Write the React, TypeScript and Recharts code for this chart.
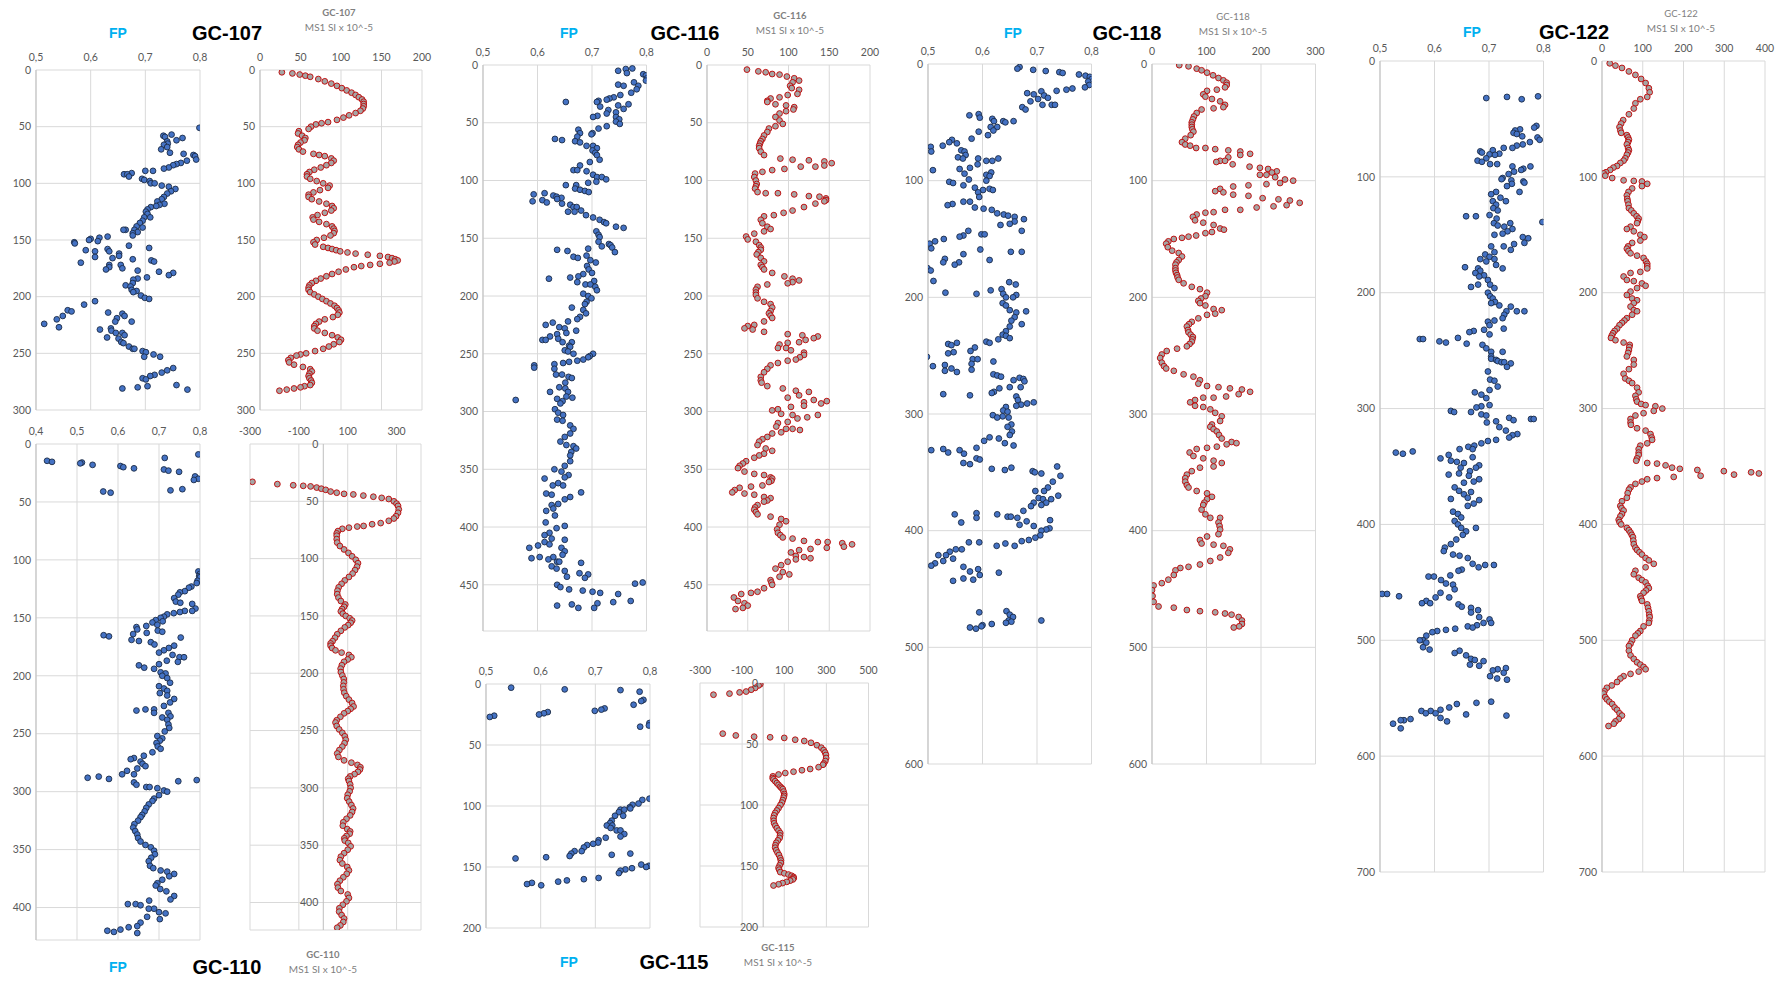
import { ScatterChart, Scatter, XAxis, YAxis, CartesianGrid, ReferenceLine } from "recharts"

// every pair is [depth, value]
type Pair = [number, number]

// axis ticks
const fpTicks = [0.5, 0.6, 0.7, 0.8]
const fpTicks110 = [0.4, 0.5, 0.6, 0.7, 0.8]
const msTicks200 = [0, 50, 100, 150, 200]
const msTicks300 = [0, 100, 200, 300]
const msTicks400 = [0, 100, 200, 300, 400]
const msTicks110 = [-300, -100, 100, 300]
const msTicks115 = [-300, -100, 100, 300, 500]
const depthTicks200 = [0, 50, 100, 150, 200]
const depthTicks300 = [0, 50, 100, 150, 200, 250, 300]
const depthTicks400 = [0, 50, 100, 150, 200, 250, 300, 350, 400]
const depthTicks450 = [0, 50, 100, 150, 200, 250, 300, 350, 400, 450]
const depthTicks600 = [0, 100, 200, 300, 400, 500, 600]
const depthTicks700 = [0, 100, 200, 300, 400, 500, 600, 700]

// ---- GC-107 ----
const fp107: Pair[] = [
  [51,.799],[57,.748],[58,.733],[59,.736],[60,.768],[62,.757],[63,.740],[65,.741],[66,.734],[68,.740],[70,.729],[73,.745],[74,.770],[75,.788],[76,.791],[79,.793],[80,.776],[82,.765],[83,.757],[84,.751],[86,.743],[87,.734],[89,.700],[89,.714],[91,.675],[92,.661],[92,.667],[94,.670],[96,.694],[97,.698],[98,.708],[100,.710],[100,.717],[102,.730],[103,.743],[105,.755],[107,.747],[109,.740],[112,.734],[114,.730],[116,.722],[118,.735],[119,.726],[120,.720],[121,.710],[123,.704],[125,.701],[127,.704],[130,.709],[130,.698],[133,.695],[135,.690],[138,.684],[139,.695],[141,.680],[141,.664],[141,.660],[143,.686],[144,.677],[146,.677],[147,.631],[148,.616],[149,.600],[150,.597],[151,.613],[152,.570],[153,.571],[155,.670],[157,.707],[158,.631],[159,.591],[160,.608],[160,.634],[162,.652],[164,.652],[165,.608],[166,.640],[167,.677],[168,.711],[169,.716],[170,.582],[172,.634],[172,.655],[174,.634],[175,.658],[176,.628],[177,.686],[178,.725],[179,.751],[181,.743],[183,.703],[184,.686],[185,.678],[188,.677],[190,.664],[191,.673],[194,.675],[195,.684],[196,.678],[199,.692],[201,.699],[202,.707],[204,.608],[207,.588],[212,.558],[213,.565],[214,.632],[215,.658],[217,.662],[217,.549],[219,.648],[220,.538],[222,.675],[222,.645],[224,.515],[227,.542],[228,.637],[229,.617],[230,.638],[232,.658],[232,.646],[234,.662],[236,.630],[237,.651],[240,.656],[241,.660],[244,.670],[246,.677],[246,.680],[248,.695],[249,.701],[251,.715],[253,.727],[253,.698],[263,.751],[265,.740],[267,.730],[269,.717],[270,.709],[272,.695],[273,.701],[278,.757],[279,.704],[280,.686],[281,.658],[282,.777],
]
const ms107: Pair[] = [
  [2,27],[3,40],[4,49],[5,56],[6,62],[8,72],[10,80],[12,88],[14,95],[16,101],[18,107],[20,113],[22,118],[24,122],[26,126],[28,128],[30,128],[32,128],[34,127],[36,124],[38,118],[40,110],[42,103],[44,95],[46,84],[47,76],[48,69],[50,63],[52,60],[54,48],[56,47],[58,52],[60,56],[62,55],[64,50],[66,47],[68,46],[70,48],[72,53],[74,66],[75,73],[76,80],[78,88],[80,91],[82,88],[84,82],[86,75],[88,67],[90,61],[92,58],[94,58],[96,62],[98,70],[100,78],[102,86],[104,84],[106,74],[108,66],[110,60],[112,60],[114,64],[116,73],[118,82],[120,89],[122,91],[124,88],[126,80],[128,71],[130,65],[132,66],[134,73],[136,82],[138,89],[140,91],[142,92],[144,91],[146,87],[148,79],[150,70],[152,66],[154,68],[156,78],[157,84],[158,89],[159,94],[160,99],[161,108],[162,118],[163,133],[164,148],[165,158],[166,163],[167,167],[168,170],[169,166],[170,160],[171,148],[172,136],[173,125],[174,116],[176,106],[178,97],[180,89],[182,82],[184,75],[186,69],[188,64],[190,61],[192,60],[194,60],[196,62],[198,67],[200,72],[202,77],[204,82],[206,87],[208,92],[210,95],[212,97],[214,98],[216,96],[218,90],[220,80],[222,73],[224,69],[226,67],[228,67],[230,71],[232,80],[234,89],[236,96],[238,100],[240,98],[242,91],[244,85],[246,78],[248,68],[250,57],[251,50],[252,45],[254,38],[256,35],[258,36],[260,42],[262,53],[264,62],[266,64],[268,61],[270,60],[272,61],[274,63],[276,64],[278,62],[279,55],[280,50],[281,42],[282,33],[283,24],
]

// ---- GC-110 ----
const fp110: Pair[] = [
  [9,.796],[12,.714],[14.5,.427],[15.4,.439],[16,.512],[16.7,.508],[18,.538],[19,.606],[20,.613],[21,.639],[22,.712],[23,.723],[24,.749],[28,.788],[30,.796],[31,.785],[39,.757],[40,.728],[41,.564],[42,.582],
  [110,.796],[112,.800],[114,.798],[115,.800],[118,.794],[120,.792],[123,.779],[124,.773],[127,.763],[128,.751],[130,.747],[133,.737],[136,.741],[137,.752],[138,.781],[142,.789],[144,.781],[144,.763],[145,.751],[146,.736],[147,.720],[149,.712],[150,.704],[152,.692],[153,.709],[154,.684],[156,.696],[157,.669],[158,.645],[160,.647],[161,.697],[162,.708],[163,.670],[164,.637],[165,.565],[166,.578],[167,.753],[169,.633],[170,.651],[171,.680],[173,.689],[174,.737],[176,.724],[178,.712],[180,.700],[182,.733],[184,.750],[184,.761],[187,.719],[188,.746],[190,.700],[191,.651],[193,.664],[194,.688],[197,.704],[198,.716],[200,.708],[202,.720],[206,.727],[209,.700],[211,.712],[213,.720],[215,.702],[217,.720],[220,.737],[223,.727],[226,.712],[229,.688],[229,.667],[230,.645],[232,.688],[232,.723],[235,.728],[236,.708],[238,.720],[242,.723],[245,.725],[248,.714],[252,.696],[254,.708],[256,.702],[258,.694],[261,.697],[263,.704],[266,.684],[269,.663],[271,.639],[272,.631],[274,.655],[276,.660],[278,.667],[280,.647],[282,.622],[285,.610],[285,.639],[287,.553],[288,.526],[289,.578],[290,.792],[291,.747],[292,.639],[294,.645],[296,.669],[296,.677],[297,.696],[299,.712],[300,.720],[303,.700],[306,.688],[308,.684],[311,.675],[314,.669],[317,.665],[320,.659],[322,.655],[325,.649],[328,.640],[331,.637],[334,.642],[337,.647],[340,.649],[343,.655],[346,.667],[348,.680],[351,.688],[354,.690],[357,.681],[360,.675],[364,.678],[366,.686],[368,.704],[369,.720],[371,.737],[373,.725],[376,.708],[379,.696],[381,.692],[384,.703],[386,.718],[390,.737],[393,.728],[394,.676],[397,.624],[397,.643],[398,.655],[401,.688],[401,.675],[404,.700],[405,.716],[408,.671],[410,.702],[413,.655],[416,.647],[417,.626],[419,.606],[420,.574],[421,.590],[422,.647],
]
const ms110: Pair[] = [
  [33,-290],[35,-188],[36,-123],[36.5,-82],[37,-52],[38,-27],[39,-8],[40,10],[41.5,30],[42.5,55],[43.5,85],[44,123],[45,164],[46,205],[47,239],[48,268],[50,289],[52,300],[54,306],[57,309],[60,306],[63,298],[65,289],[67,268],[69,235],[70,200],[71.5,165],[72,139],[73,105],[74,78],[76,60],[78,55],[80,55],[83,55],[86,57],[89,68],[92,85],[95,103],[98,118],[101,133],[104,142],[107,138],[110,130],[113,120],[116,105],[119,88],[122,75],[125,63],[128,58],[131,57],[134,62],[137,72],[140,90],[142,85],[144,77],[146,72],[148,80],[150,92],[152,108],[154,118],[156,112],[158,102],[160,88],[163,72],[166,57],[169,48],[172,38],[174,30],[176,30],[178,36],[180,50],[182,75],[184,105],[186,115],[188,100],[190,85],[193,76],[196,71],[199,72],[202,78],[205,84],[208,84],[211,82],[214,83],[217,86],[220,94],[223,105],[226,118],[229,124],[231,112],[233,100],[235,85],[238,70],[241,55],[243,50],[246,55],[249,65],[252,78],[255,88],[258,92],[261,87],[264,78],[267,66],[270,57],[273,62],[276,85],[278,115],[280,140],[282,152],[284,150],[286,142],[288,128],[290,110],[292,102],[294,105],[297,110],[300,112],[303,108],[306,100],[309,98],[312,106],[315,115],[318,122],[321,118],[324,110],[327,95],[330,82],[333,80],[336,98],[338,110],[340,108],[342,95],[344,86],[346,88],[348,102],[351,112],[354,100],[357,85],[360,72],[363,68],[366,78],[369,98],[372,105],[375,96],[378,82],[381,68],[384,58],[387,60],[390,72],[393,100],[396,105],[399,95],[402,80],[405,66],[408,65],[411,75],[414,85],[417,82],[420,70],[422,57],
]

// ---- GC-116 ----
const fp116: Pair[] = [
  [3,.774],[3.5,.762],[5,.748],[7,.764],[8,.794],[9,.799],[11.5,.801],[13.5,.799],[15,.777],[17,.748],[18,.758],[18,.785],[21,.782],[24,.772],[26,.752],[28,.740],[29,.732],[30,.727],[31,.712],[32,.709],[32,.652],[34,.767],[35,.748],[36,.715],[38,.758],[39,.730],[41,.744],[42,.727],[44,.710],[45,.702],[45,.744],[47,.750],[49,.744],[51,.751],[53,.727],[55,.712],[56,.675],[59,.701],[59,.678],[60,.699],[62,.673],[64,.632],[65,.645],[66,.669],[67,.678],[70,.690],[70,.702],[72,.709],[74,.701],[76,.706],[78,.709],[82,.714],[84,.696],[87,.678],[91,.666],[91,.673],[92,.690],[95,.702],[97,.709],[97,.718],[99,.726],[101,.708],[102,.693],[104,.652],[104,.671],[107,.669],[108,.678],[109,.687],[110,.694],[111,.613],[112,.593],[113,.629],[114,.635],[115,.644],[116,.636],[117,.609],[118,.591],[119,.617],[120,.645],[121,.660],[123,.666],[123,.672],[126,.680],[127,.656],[127,.668],[130,.689],[132,.702],[134,.714],[136,.722],[137,.726],[140,.744],[141,.758],[144,.708],[147,.712],[149,.714],[153,.712],[155,.731],[156,.734],[157,.718],[158,.737],[159,.693],[160,.636],[161,.655],[162,.742],[165,.690],[166,.666],[167,.674],[169,.697],[171,.707],[174,.691],[177,.694],[180,.700],[181,.684],[183,.675],[184,.660],[185,.621],[187,.704],[188,.673],[190,.688],[190,.697],[192,.706],[195,.709],[198,.684],[200,.693],[202,.699],[205,.690],[207,.687],[210,.663],[212,.684],[215,.689],[218,.678],[220,.673],[222,.656],[223,.628],[225,.615],[227,.640],[228,.650],[230,.671],[232,.653],[233,.636],[235,.623],[237,.638],[238,.609],[238,.615],[240,.646],[240,.663],[243,.658],[244,.660],[247,.650],[248,.656],[250,.666],[250,.702],[252,.696],[253,.693],[255,.684],[256,.673],[257,.658],[258,.647],[259,.631],[260,.594],[262,.594],[263,.631],[268,.634],[268,.645],[270,.657],[271,.663],[275,.651],[279,.640],[280,.651],[283,.656],[283,.623],[287,.653],[288,.664],[289,.636],[290,.560],[291,.646],[293,.642],[298,.632],[301,.638],[303,.647],[307,.636],[308,.646],[312,.660],[315,.666],[319,.660],[322,.650],[326,.642],[329,.653],[330,.666],[332,.671],[335,.662],[338,.660],[343,.660],[347,.650],[350,.631],[352,.644],[355,.657],[357,.650],[358,.613],[362,.638],[364,.628],[364,.647],[370,.680],[371,.616],[372,.626],[374,.660],[376,.650],[380,.638],[381,.626],[384,.629],[386,.616],[390,.632],[396,.615],[399,.650],[401,.635],[405,.622],[407,.613],[410,.626],[411,.650],[413,.613],[415,.622],[416,.601],[418,.585],[418,.644],[421,.650],[424,.646],[426,.604],[426,.629],[427,.589],[428,.620],[430,.636],[430,.640],[431,.680],[434,.626],[436,.635],[438,.650],[440,.677],[441,.693],[443,.654],[444,.687],[448,.793],[449,.779],[450,.636],[452,.642],[454,.658],[455,.683],[456,.701],[457,.715],[458,.748],[464,.771],[465,.739],[466,.710],[467,.663],[468,.636],[470,.704],[470,.675],
]
const ms116: Pair[] = [
  [4,49],[5.5,63],[6.3,72],[7.8,80],[8.3,89],[10,98],[11.5,107],[13.5,113],[15,105],[18,102],[20,104],[21.5,113],[25,111],[26,99],[28,89],[29,78],[31,74],[32,74],[34,84],[35,97],[36.5,107],[38.5,106],[40,97],[42,89],[45,84],[48,89],[51,93],[53,84],[55,76],[58,74],[61,70],[64,68],[66,66],[68,65],[70,64],[72,64],[75,66],[78,70],[81,90],[82,105],[82.5,125],[83.5,144],[85,153],[87,144],[88,133],[88,115],[90,95],[91,80],[92.5,68],[94,59],[97,58],[100,60],[103,61],[105,60],[107,59],[110,62],[111,72],[111,87],[112,107],[113.5,125],[114,138],[115.5,146],[117,146],[118,144],[120,133],[123,119],[126,105],[128,94],[130,82],[131,70],[134,66],[137,68],[140,74],[142,78],[144,70],[146,58],[148.5,48],[151,50],[153,60],[156,64],[158,66],[160,66],[162,63],[164,61],[167,66],[170,70],[173,66],[175,68],[177,70],[180,80],[183,95],[185,105],[186.5,113],[188,105],[189,99],[190,74],[192,62],[194.5,60],[197,60],[199,60],[202,62],[205,70],[207,78],[210,80],[213,78],[215,76],[217,78],[219,80],[222,70],[225,58],[226,50],[228,46],[229,56],[231,70],[233,99],[234,117],[235,136],[236.5,131],[238,121],[240,113],[240.5,99],[242,89],[245,87],[245,97],[247,103],[249,119],[251,119],[253,114],[255,109],[256,99],[258,87],[260,78],[263,74],[266,70],[270,66],[273,66],[275,67],[278,74],[280,93],[282,109],[283,125],[286,113],[288,99],[290,131],[291,147],[292,119],[293,140],[295,119],[296,103],[298,87],[299,80],[302,91],[303,105],[303,136],[305,123],[306,111],[309,99],[310,87],[313,85],[315,97],[315,105],[316,114],[318,91],[319,80],[322,74],[324,68],[326,64],[329,62],[332,72],[334,80],[336.5,70],[338,64],[340,58],[343,48],[345,44],[347,40],[349,38],[352,46],[354,58],[355,70],[357,78],[358,80],[360,79],[361,76],[364,68],[365,54],[366,40],[368,34],[370,31],[371,46],[372,58],[374,70],[375,78],[377,74],[378,70],[381,62],[383,59],[385,58],[387,60],[389,62],[391,78],[393,91],[395,97],[398,89],[402,86],[405,87],[407,90],[409,93],[410,105],[412,119],[413,136],[413,148],[414,166],[415,178],[417,168],[418,147],[419,127],[420,113],[422,103],[425,109],[426,119],[427,127],[428,109],[430,99],[433,91],[436,84],[439,93],[441,101],[443,89],[446,78],[448,79],[450,80],[453,70],[456,62],[457,54],[458,42],[461,33],[464,38],[466,46],[468,50],[470,44],[471,35],
]

// ---- GC-115 ----
const fp115: Pair[] = [
  [3,.546],[4.4,.644],[5,.746],[6.3,.781],[13,.788],[14,.784],[17,.770],[20,.717],[21,.711],[22,.699],[23,.613],[24,.606],[25,.597],[26,.515],[27,.507],[32,.799],[34,.798],[35,.782],[94,.799],[95,.786],[98,.779],[99,.768],[101,.763],[102,.764],[103,.746],[103,.753],[105,.743],[108,.736],[108,.751],[112,.730],[114,.727],[116,.721],[116,.731],[118,.728],[120,.739],[120,.746],[123,.753],[125,.746],[126,.719],[128,.706],[130,.705],[131,.696],[132,.685],[134,.679],[137,.675],[137,.662],[139,.656],[139,.764],[140,.730],[141,.653],[142,.610],[143,.554],[148,.784],[149,.798],[150,.793],[151,.767],[152,.755],[153,.746],[155,.743],[159,.706],[160,.679],[161,.648],[162,.632],[163,.584],[164,.575],[165,.601],
]
const ms115: Pair[] = [
  [1,-14],[2,-22],[4,-38],[5.5,-57],[7,-81],[7.7,-112],[8.7,-160],[9.6,-236],[41.5,-192],[43,-130],[44,-43],[44.5,33],[45,100],[46.5,152],[47.5,195],[49,227],[51,255],[53,276],[55,287],[57,294],[59,298],[61.5,299],[64,295],[66,288],[67,284],[69,263],[70.5,223],[71.5,184],[72.7,144],[73.8,105],[75,73],[76.5,46],[78,45],[79,49],[80.5,57],[82,65],[83.5,73],[85,81],[86,87],[87,93],[89,97],[91,100],[92.5,99],[94,97],[96,93],[98,89],[100,82],[102.5,73],[104.5,65],[106.5,57],[108.5,52],[110.7,49],[113,50],[115,52],[117,58],[119,65],[121,73],[123,81],[125,80],[127,78],[129,70],[131,62],[133,58],[135,57],[137,62],[139,68],[141,75],[143.5,81],[145.5,84],[147.5,84],[149.5,78],[151.5,73],[153,76],[155,81],[156,100],[157,120],[158,135],[159,144],[160,145],[161,141],[162,128],[163,112],[164,92],[165,73],[166,49],
]

// ---- GC-118 ----
const fp118: Pair[] = [
  [2.6,.668],[4,.664],[5,.693],[6,.716],[7,.741],[7.7,.747],[9,.777],[10,.789],[11,.797],[13,.800],[15,.794],[18,.796],[20,.788],[21,.765],[22,.754],[23,.736],[23.4,.708],[25,.682],[26,.694],[27,.713],[29,.720],[30,.702],[32,.688],[35,.710],[35,.727],[35,.733],[37,.673],[39,.679],[43,.593],[44,.576],[46,.595],[47,.618],[49,.621],[49,.638],[49,.657],[50,.642],[54,.615],[54,.627],[57,.620],[58,.593],[61,.610],[64,.580],[65,.544],[67,.539],[68,.553],[70,.527],[71,.505],[74,.561],[75,.506],[75,.567],[78,.569],[80,.555],[81,.564],[81,.592],[81,.629],[83,.607],[83,.618],[86,.591],[89,.577],[90,.558],[91,.509],[93,.616],[94,.567],[95,.607],[96,.613],[99,.575],[100,.607],[101,.539],[102,.546],[104,.565],[106,.586],[107,.613],[108,.601],[108,.619],[110,.592],[114,.594],[118,.577],[118,.565],[120,.545],[121,.536],[123,.586],[124,.602],[125,.617],[128,.627],[129,.639],[130,.647],[131,.659],[133,.676],[135,.659],[137,.650],[138,.633],[143,.672],[143,.574],[146,.598],[146,.604],[147,.565],[148,.558],[150,.529],[152,.513],[154,.503],[158,.506],[159,.596],[161,.652],[161,.672],[163,.565],[167,.531],[168,.613],[170,.528],[170,.557],[172,.549],[175,.499],[177,.505],[186,.510],[187,.649],[189,.661],[193,.635],[194,.615],[196,.532],[197,.589],[197,.638],[198,.662],[200,.643],[200,.656],[205,.637],[207,.643],[211,.650],[212,.680],[213,.662],[217,.659],[220,.653],[223,.672],[225,.650],[229,.643],[232,.637],
  [233,.643],[235,.650],[236,.629],[238,.607],[239,.613],[239,.553],[240,.537],[241,.543],[243,.586],[246,.578],[247,.547],[248,.537],[251,.498],[253,.582],[253,.591],[255,.620],[257,.580],[258,.531],[259,.509],[261,.543],[262,.580],[263,.531],[264,.553],[266,.620],[267,.627],[268,.634],[269,.668],[270,.675],[271,.657],[272,.677],[277,.650],[277,.670],[278,.631],[281,.621],[282,.617],[283,.528],[284,.577],[285,.662],[288,.665],[290,.694],[291,.682],[292,.671],[293,.662],[294,.643],[297,.638],[298,.646],[301,.619],[302,.637],[303,.627],[303,.648],[309,.653],[311,.646],[315,.654],[318,.650],[320,.613],[321,.630],[323,.603],[325,.641],[327,.657],[329,.589],[330,.528],[331,.506],[331,.558],[333,.537],[334,.566],[338,.589],[339,.595],[342,.565],[343,.577],[345,.737],[346,.653],[347,.617],[348,.641],[349,.692],[350,.696],[351,.708],[353,.743],[358,.729],[363,.720],[366,.713],[366,.697],[370,.739],[372,.703],[373,.711],[373,.726],[376,.694],[376,.717],[378,.708],[379,.689],[383,.675],[385,.589],[386,.549],[386,.627],[388,.646],[388,.652],[389,.589],[389,.664],[391,.724],[392,.681],[393,.561],[395,.668],[396,.694],[398,.723],[399,.717],[400,.708],[404,.706],[406,.697],[408,.685],[409,.672],[410,.594],[410,.575],[411,.642],[413,.659],[413,.626],[416,.562],[416,.551],[418,.540],[421,.533],[421,.519],[424,.546],[426,.528],[428,.513],[430,.506],[431,.565],[433,.592],[435,.577],[436,.630],[438,.595],[441,.565],[442,.583],[443,.546],[469,.644],[470,.594],[472,.650],[474,.656],[477,.648],[477,.708],[478,.653],[479,.643],[480,.617],[481,.600],[482,.598],[483,.577],[484,.588],
]
const ms118: Pair[] = [
  [1,50],[2,67],[4,82],[5.4,91],[7.4,101],[9.7,112],[12,122],[14,131],[16,137],[18,137],[20,134],[22,119],[23,101],[26,94],[28,98],[30,110],[32,125],[35,134],[37,131],[38,113],[39,91],[42,82],[45,77],[47.5,75],[50,73],[52,73],[54,73],[56,74],[58,76],[61,71],[64,61],[67,55],[69,61],[70,70],[72,81],[72,98],[73,116],[74,140],[75,162],[77,180],[78,162],[80,140],[83,125],[84,118],[83,134],[86,148],[88,179],[89,198],[90,213],[92,229],[93,220],[95,210],[95,198],[97,226],[99,244],[100,259],[102,235],[103,210],[104,177],[105,149],[107,125],[109,116],[110,131],[112,149],[113,177],[115,203],[116,232],[117,253],[119,271],[121,247],[122,223],[123,192],[125,162],[125,134],[127,113],[127.5,98],[129,82],[131,75],[134,79],[136,94],[138,113],[141,125],[142,132],[144,110],[145,98],[147,81],[148,67],[149,55],[150,40],[152,30],[154,26],[157,29],[160,37],[162,49],[165,55],[168,49],[170,45],[172,43],[175,43],[177,43],[179,44],[181,46],[183,47],[185,49],[188,58],[191,73],[193,88],[196,101],[199,98],[201,90],[203,85],[205,88],[207,98],[210,113],[211,128],[214,116],[215,101],[218,85],[221,73],[223,68],[225,64],[228,66],[230,67],[232,71],[234,75],[236,74],[238,73],[240,69],[242,64],[244,46],[246,27],[249,18],[252,15],[256,18],[259,22],[261,26],[263,40],[266,58],[268,76],[271,88],[274,85],[276,101],[277,122],[278,143],[279,165],[281,180],[283,159],[285,136],[286,113],[286,94],[288,79],[290,70],[293,79],[294,94],[296,107],[299,116],[302,128],[306,125],[309,110],[311,107],[313,113],[315,119],[318,123],[321,128],[324,146],[325,155],[326,137],[328,119],[329,101],[330,82],[333,69],[336,76],[338,94],[340,113],[342,128],[345,113],[346,88],[349,73],[352,64],[355,61],[358,61],[361,64],[363,67],[366,82],[368,101],[371,110],[373,101],[376,96],[378,94],[382,91],[386,98],[389,107],[389,125],[393,122],[396,124],[399,125],[403,122],[405,101],[408,88],[411,91],[412,113],[413,131],[416,143],[419,140],[423,125],[426,107],[429,88],[431,67],[432,52],[434,43],[438,40],[442,30],[445,18],[447,3],[451,0],[456,1],[461,3],[465,12],[466,40],[468,64],[469,88],[470,116],[471,134],[472,146],[474,159],[477,165],[480,165],[482,160],[483,150],
]

// ---- GC-122 ----
const fp122: Pair[] = [
  [30.5,.790],[31,.733],[32,.695],[33,.760],[56,.787],[57.5,.783],[59,.757],[60,.748],[62,.745],[63,.751],[65,.761],[66,.789],[68,.793],[70,.775],[72,.762],[73,.751],[75,.743],[75,.727],[77,.707],[78,.684],[79,.687],[80.6,.701],[80,.719],[81,.711],[84,.695],[86,.679],[87,.687],[89,.715],[89,.702],[91,.743],[91,.776],[93,.763],[94,.759],[95.5,.746],[97.6,.736],[101,.725],[102,.723],[103,.741],[104,.763],[105,.765],[106,.742],[108,.733],[113,.756],[113,.713],[115,.704],[118,.721],[121,.731],[121,.707],[124,.713],[127,.708],[129,.716],[133,.701],[134,.658],[134,.676],[136,.714],[139,.798],[140,.709],[140,.739],[142,.716],[143,.728],[145,.743],[147,.734],[149,.725],[150,.710],[152,.762],[153,.772],[157,.765],[158,.746],[160,.727],[160,.704],[163,.740],[165,.710],[167,.693],[169,.701],[171,.710],[171,.684],[173,.695],[176,.713],[178,.656],[179,.725],[179,.680],[181,.684],[183,.675],[185,.691],[186,.682],[189,.698],[193,.680],[193,.702],[195,.667],[196,.710],[200,.698],[203,.702],[205,.707],[208,.711],[209,.704],[211,.719],[212,.740],[216,.751],[216,.765],[216,.732],[219,.728],[222,.725],[224,.710],[225,.698],[228,.701],[231,.727],[232,.691],[233,.672],[234,.664],[236,.701],[239,.643],[240,.573],[240,.579],[242,.609],[243,.621],[244,.659],[245,.688],[248,.695],[251,.704],[251,.725],[255,.704],[257,.704],[258,.713],[259,.716],[260,.723],[260,.728],[261,.740],[264,.733],
  [268,.698],[275,.702],[276,.710],[281,.716],[284,.701],[286,.674],[288,.686],[291,.695],[297,.701],[298,.686],[299,.677],[302,.630],[303,.636],[303,.667],[305,.686],[306,.695],[308,.737],[309,.777],[309,.782],[310,.745],[311,.713],[312,.696],[316,.719],[319,.731],[322,.752],[323,.743],[325,.737],[327,.713],[328,.698],[330,.686],[332,.673],[333,.662],[335,.670],[335,.646],[337,.560],[338,.529],[339,.542],[340,.626],[342,.670],[343,.611],[345,.630],[346,.641],[347,.654],[349,.682],[351,.676],[351,.648],[354,.665],[356,.645],[357,.626],[358,.663],[361,.682],[363,.672],[364,.654],[368,.637],[371,.645],[372,.667],[374,.654],[377,.661],[378,.630],[379,.682],[382,.672],[384,.661],[389,.634],[391,.643],[394,.649],[397,.637],[400,.643],[403,.649],[403,.676],[406,.658],[409,.652],[413,.640],[417,.630],[420,.619],[423,.617],[426,.634],[427,.646],[429,.661],[434,.670],[435,.693],[435,.709],[437,.681],[439,.650],[440,.644],[444,.629],[445,.589],[445,.599],[448,.612],[451,.621],[452,.634],[456,.637],[459,.611],[460,.504],[460,.513],[462,.535],[463,.602],[463,.627],[466,.585],[468,.592],[468,.577],[469,.644],[471,.650],[472,.667],[474,.680],[476,.667],[480,.682],[482,.701],[485,.704],[485,.690],[487,.678],[488,.661],[489,.670],[490,.638],[491,.621],[492,.605],[493,.596],[496,.585],[500,.579],[500,.573],[502,.585],[506,.579],[508,.591],[509,.646],[511,.637],[513,.658],[516,.667],[517,.674],[518,.690],[521,.665],[522,.682],[524,.731],[525,.716],[526,.707],
  [528,.727],[531,.702],[533,.715],[534,.733],[553,.704],[554,.677],[555,.641],[558,.627],[560,.611],[561,.593],[561,.576],[563,.602],[563,.584],[564,.658],[565,.732],[567,.611],[568,.556],[569,.544],[569,.538],[570,.623],[572,.524],[576,.538],
]
const ms122: Pair[] = [
  [2,19],[4,33],[6,49],[9,66],[12,82],[15.5,96],[19,107],[23.5,115],[27,117],[31,111],[33,94],[36.5,82],[41,78],[46,66],[51,52],[54,47],[57,43],[60,45],[62,47],[64,61],[66,64],[68,66],[70,64],[72,61],[75,64],[77,66],[79,64],[81,61],[84,57],[86,53],[88,45],[90.6,37],[92,28],[94,20],[96,10],[97,4],[99,8],[101,25],[103,53],[103.5,78],[104,98],[106,111],[108,98],[110,74],[113,65],[116,61],[119,62],[121,63],[124,65],[127,66],[129,72],[131.5,78],[134,85],[136,90],[138,88],[140,86],[143,70],[145,61],[147,78],[150,94],[152,104],[155,94],[157,74],[160,64],[162,61],[164,65],[166,70],[168,86],[170,102],[173,108],[175,111],[177,111],[179,111],[182,94],[183,70],[186,53],[189,61],[190,78],[192,98],[194,107],[196,86],[199,70],[202,61],[205,74],[206.5,86],[209,78],[212,70],[215,78],[216,86],[219,74],[222,61],[224,55],[226,49],[228,43],[231,37],[233,31],[235,27],[237,24],[239,22],[241,33],[243,53],[245,68],[247,67],[249.5,66],[252,64],[255,61],[258,78],[262,78],[266,66],[270,53],[274,57],[276,66],[278,74],[282,86],[286,90],[289,82],[292,84],[294,86],[296,96],[297,107],[298,131],[300,148],[302,127],[304,102],[306,82],[309,70],[312,70],[314,71],[317,86],[319,107],[322,119],[325,122],[327,123],[330,111],[332,94],[335,90],[338,90],[340,90],[343,86],[345,84],[347,111],[347.5,135],[349,156],[351,172],[352,191],[353,234],[354,299],[355,366],[356,385],[357,324],[358,242],[359,176],[360,135],[361,111],[363,98],[365,82],[368,70],[370,66],[373,63],[377,61],[380,49],[384,45],[386,48],[388,53],[391,49],[393,45],[396,41],[398,43],[400,47],[403,61],[405,66],[407,70],[409,73],[411,76],[414,77],[417,78],[420,82],[422,86],[424,92],[426,98],[429,107],[431,115],[434,127],[437,107],[440,82],[443,78],[446,90],[448,98],[450,107],[453,112],[455,115],[457,108],[459,102],[462,94],[464,96],[466,98],[469,111],[472,113],[475,115],[478,116],[480,117],[483,116],[485,115],[488,102],[492,94],[494,88],[496,82],[500,74],[503,70],[505,66],[509,66],[513,70],[516,78],[519,86],[521,94],[523,102],[525,107],[527,90],[529,70],[531,53],[533,45],[536,37],[539,24],[541,12],[544,6],[546,4],[549,8],[551,12],[553,18],[555,25],[558,31],[560,37],[563,43],[565,49],[568,41],[570,33],[572,29],[574,16],
]

const TICK_FONT = "Lato, 'Open Sans', sans-serif"
const TITLE_FONT = "'Liberation Sans', Arial, sans-serif"
const AXIS_W = 34
const AXIS_H = 22
const PAD_R = 16
const PAD_B = 10

const fmt = (v: number) => String(v).replace(".", ",")

interface PanelProps {
  data: Pair[]
  box: [number, number, number, number] // plot left, top, right, bottom
  xDomain: [number, number]
  xTicks: number[]
  yDomain: [number, number]
  yTicks: number[]
  kind: "fp" | "ms"
  zeroAxis?: boolean
}

function Panel({ data, box, xDomain, xTicks, yDomain, yTicks, kind, zeroAxis }: PanelProps) {
  const [left, top, right, bottom] = box
  const w = right - left
  const h = bottom - top
  // MS1 panels with negative values have the depth axis crossing at 0
  const shift = zeroAxis ? (w * -xDomain[0]) / (xDomain[1] - xDomain[0]) : 0
  const points = data.map(([depth, value]) => ({ x: value, y: depth }))
  const fill = kind === "fp" ? "#4472c4" : "#a5a5a5"
  const stroke = kind === "fp" ? "#1c2b45" : "#c00000"
  const tickStyle = { fill: "#595959", fontSize: 10.5, fontFamily: TICK_FONT }

  return (
    <div style={{ position: "absolute", left: left - AXIS_W, top: top - AXIS_H }}>
      <ScatterChart
        width={w + AXIS_W + PAD_R}
        height={h + AXIS_H + PAD_B}
        margin={{ top: 0, right: PAD_R, bottom: PAD_B, left: 0 }}
      >
        <CartesianGrid stroke="#d9d9d9" />
        <XAxis
          type="number"
          dataKey="x"
          orientation="top"
          domain={xDomain}
          ticks={xTicks}
          interval={0}
          height={AXIS_H}
          axisLine={false}
          tickLine={false}
          tickSize={5}
          tickMargin={4}
          tick={tickStyle}
          tickFormatter={fmt}
          allowDataOverflow
        />
        <YAxis
          type="number"
          dataKey="y"
          reversed
          domain={yDomain}
          ticks={yTicks}
          interval={0}
          width={AXIS_W}
          axisLine={zeroAxis ? false : { stroke: "#bfbfbf" }}
          tickLine={false}
          tickSize={2}
          tickMargin={3}
          tick={
            zeroAxis
              ? (p: any) => (
                  <text x={p.x + shift} y={p.y} dy="0.35em" textAnchor="end" fill="#595959" fontSize={10.5} fontFamily={TICK_FONT}>
                    {p.payload.value}
                  </text>
                )
              : tickStyle
          }
          allowDataOverflow
        />
        {zeroAxis && <ReferenceLine x={0} stroke="#bfbfbf" />}
        <Scatter
          data={points}
          isAnimationActive={false}
          shape={(p: any) => <circle cx={p.cx} cy={p.cy} r={2.9} fill={fill} stroke={stroke} strokeWidth={0.9} />}
        />
      </ScatterChart>
    </div>
  )
}

function Label({ x, y, text, size, color, bold, font }: { x: number; y: number; text: string; size: number; color: string; bold?: boolean; font?: string }) {
  return (
    <div
      style={{
        position: "absolute",
        left: x,
        top: y,
        transform: "translate(-50%, -50%)",
        whiteSpace: "nowrap",
        fontFamily: font || TITLE_FONT,
        fontSize: size,
        fontWeight: bold ? 700 : 400,
        color,
        lineHeight: 1,
      }}
    >
      {text}
    </div>
  )
}

// title block above or below each core: FP, core name, MS1 caption
function CoreTitles({ core, fpX, coreX, msX, y, smallY, smallBold }: { core: string; fpX: number; coreX: number; msX: number; y: number; smallY: number; smallBold: boolean }) {
  return (
    <>
      <Label x={fpX} y={y} text="FP" size={14} color="#00b0f0" bold />
      <Label x={coreX} y={y} text={core} size={20} color="#000" bold />
      <Label x={msX} y={smallY} text={core} size={9.5} color="#7f7f7f" bold={smallBold} font={TICK_FONT} />
      <Label x={msX} y={smallY + 14} text="MS1 SI x 10^-5" size={10} color="#7f7f7f" font={TICK_FONT} />
    </>
  )
}

export default function App() {
  return (
    <div style={{ position: "absolute", left: 0, top: 0, width: 1777, height: 981, background: "#fff", overflow: "hidden" }}>
      {/* GC-107 */}
      <Panel data={fp107} box={[36, 69.5, 200, 409.5]} xDomain={[0.5, 0.8]} xTicks={fpTicks} yDomain={[0, 300]} yTicks={depthTicks300} kind="fp" />
      <Panel data={ms107} box={[259.5, 69.5, 421.5, 409.5]} xDomain={[0, 200]} xTicks={msTicks200} yDomain={[0, 300]} yTicks={depthTicks300} kind="ms" />
      <CoreTitles core="GC-107" fpX={118} coreX={227} msX={339} y={33} smallY={13} smallBold />

      {/* GC-110 */}
      <Panel data={fp110} box={[36, 444, 200, 940]} xDomain={[0.4, 0.8]} xTicks={fpTicks110} yDomain={[0, 428]} yTicks={depthTicks400} kind="fp" />
      <Panel data={ms110} box={[249.5, 444, 420.5, 930]} xDomain={[-300, 400]} xTicks={msTicks110} yDomain={[0, 424]} yTicks={depthTicks400} kind="ms" zeroAxis />
      <CoreTitles core="GC-110" fpX={118} coreX={227} msX={323} y={967} smallY={955} smallBold />

      {/* GC-116 */}
      <Panel data={fp116} box={[483, 65, 646.5, 631]} xDomain={[0.5, 0.8]} xTicks={fpTicks} yDomain={[0, 490]} yTicks={depthTicks450} kind="fp" />
      <Panel data={ms116} box={[706.5, 65, 869.5, 631]} xDomain={[0, 200]} xTicks={msTicks200} yDomain={[0, 490]} yTicks={depthTicks450} kind="ms" />
      <CoreTitles core="GC-116" fpX={569} coreX={685} msX={790} y={33} smallY={16} smallBold />

      {/* GC-115 */}
      <Panel data={fp115} box={[485.5, 683.5, 649.5, 927.5]} xDomain={[0.5, 0.8]} xTicks={fpTicks} yDomain={[0, 200]} yTicks={depthTicks200} kind="fp" />
      <Panel data={ms115} box={[700, 683, 868.5, 927]} xDomain={[-300, 500]} xTicks={msTicks115} yDomain={[0, 200]} yTicks={depthTicks200} kind="ms" zeroAxis />
      <CoreTitles core="GC-115" fpX={569} coreX={674} msX={778} y={962} smallY={948} smallBold />

      {/* GC-118 */}
      <Panel data={fp118} box={[928, 64, 1091.5, 764]} xDomain={[0.5, 0.8]} xTicks={fpTicks} yDomain={[0, 600]} yTicks={depthTicks600} kind="fp" />
      <Panel data={ms118} box={[1152, 64, 1315.5, 764]} xDomain={[0, 300]} xTicks={msTicks300} yDomain={[0, 600]} yTicks={depthTicks600} kind="ms" />
      <CoreTitles core="GC-118" fpX={1013} coreX={1127} msX={1233} y={33} smallY={17} smallBold={false} />

      {/* GC-122 */}
      <Panel data={fp122} box={[1379.5, 61, 1543, 872]} xDomain={[0.5, 0.8]} xTicks={fpTicks} yDomain={[0, 700]} yTicks={depthTicks700} kind="fp" />
      <Panel data={ms122} box={[1601.5, 61, 1764.5, 872]} xDomain={[0, 400]} xTicks={msTicks400} yDomain={[0, 700]} yTicks={depthTicks700} kind="ms" />
      <CoreTitles core="GC-122" fpX={1472} coreX={1574} msX={1681} y={32} smallY={14} smallBold={false} />
    </div>
  )
}
